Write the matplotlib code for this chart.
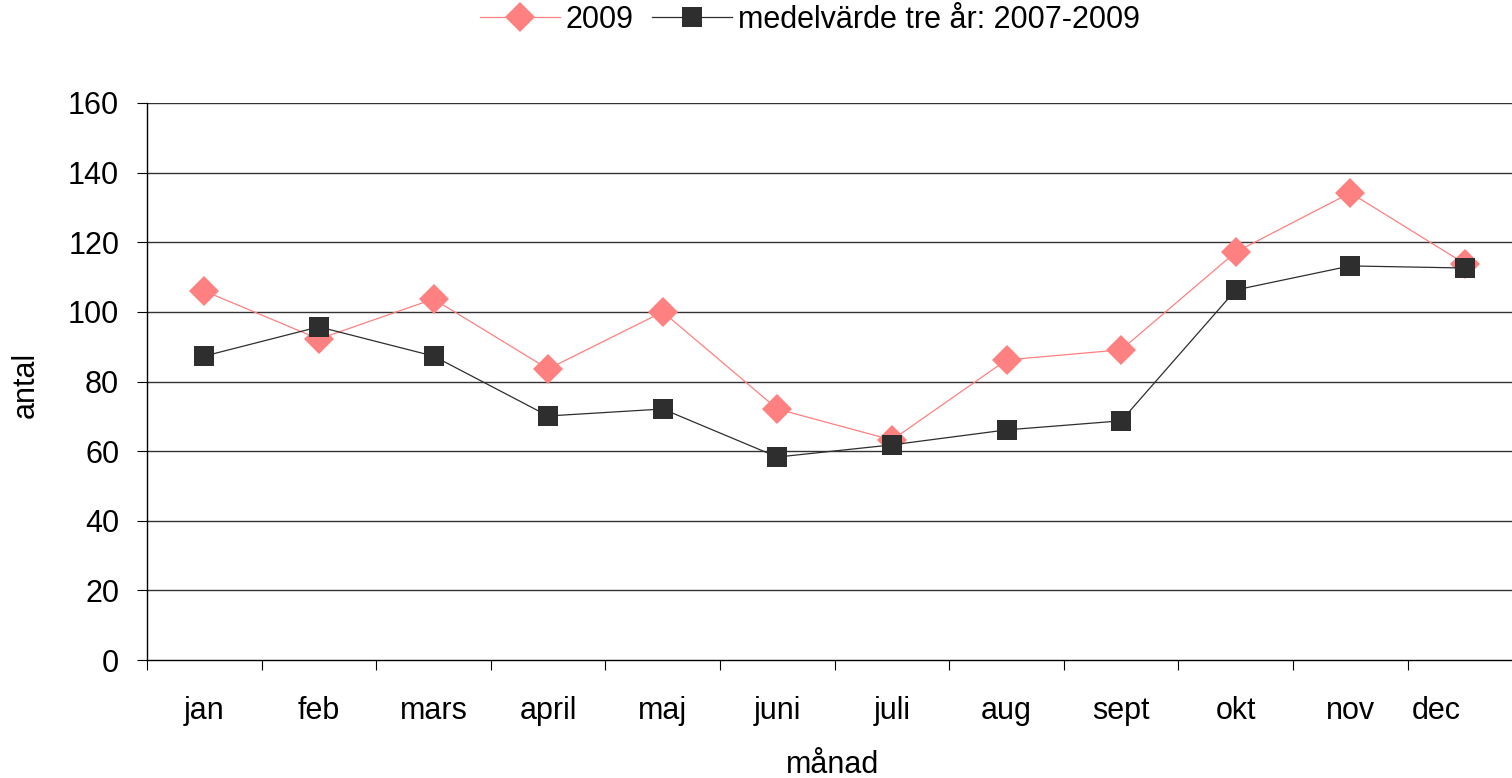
import matplotlib
matplotlib.use("Agg")
import matplotlib.pyplot as plt
from matplotlib.transforms import ScaledTranslation

months = ["jan", "feb", "mars", "april", "maj", "juni", "juli", "aug", "sept", "okt", "nov", "dec"]
series_2009 = [106.0, 92.2, 103.7, 83.6, 100.0, 72.1, 63.2, 86.2, 89.1, 117.2, 134.2, 113.8]
series_mean = [87.3, 95.7, 87.3, 70.1, 72.1, 58.3, 61.8, 66.1, 68.7, 106.3, 113.2, 112.6]
yticks = [0, 20, 40, 60, 80, 100, 120, 140, 160]

plt.rcParams['font.family'] = ['Liberation Sans', 'DejaVu Sans']
FS = 22

fig = plt.figure(figsize=(15.12, 7.78), dpi=100)
ax = fig.add_axes([147/1512, 118/778, 1 - 147/1512, (660-103)/778])

x = list(range(len(months)))
l1, = ax.plot(x, series_2009, color='#FF8080', lw=0.9, marker='D', markersize=15.5,
              markeredgewidth=0, label='2009', zorder=3)
l2, = ax.plot(x, series_mean, color='#2E2E2E', lw=0.9, marker='s', markersize=14.5,
              markeredgewidth=0, label='medelvärde tre år: 2007-2009', zorder=4)

ax.set_ylim(0, 160)
ax.set_xlim(-0.5, 11.41)
ax.set_yticks(yticks)
ax.set_yticklabels([str(v) for v in yticks], fontsize=FS)
for v in yticks[1:]:
    ax.axhline(v, color='#333333', lw=1.0, zorder=1)

ax.set_xticks([i - 0.5 for i in range(len(months))])
ax.set_xticklabels([])
ax.set_xticks(x, minor=True)
ax.set_xticklabels(months, minor=True, fontsize=FS)
ax.tick_params(axis='x', which='minor', length=0, pad=26)
ax.tick_params(axis='x', which='major', length=7, direction='out', color='black')
ax.tick_params(axis='y', length=7, direction='out', pad=13)

lbls = ax.get_xticklabels(minor=True)
lbls[-1].set_transform(lbls[-1].get_transform() + ScaledTranslation(-0.29, 0, fig.dpi_scale_trans))

for s in ['top', 'right']:
    ax.spines[s].set_visible(False)
ax.spines['left'].set_color('black')
ax.spines['bottom'].set_color('black')
ax.spines['left'].set_linewidth(1.0)
ax.spines['bottom'].set_linewidth(1.0)

ax.set_ylabel('antal', fontsize=FS, va='center')
ax.yaxis.set_label_coords((26 - 147) / 1365, (660 - 385) / 557)
ax.set_xlabel('månad', fontsize=FS, va='center')
ax.xaxis.set_label_coords((833 - 147) / 1365, (660 - 765) / 557)

fig.legend(handles=[l1, l2], loc='center', bbox_to_anchor=(810/1512, 1 - 20/778), ncol=2,
           frameon=False, fontsize=FS, handlelength=2.6, handletextpad=0.2, columnspacing=0.6,
           borderpad=0.2)

fig.savefig('out.png', dpi=100)
